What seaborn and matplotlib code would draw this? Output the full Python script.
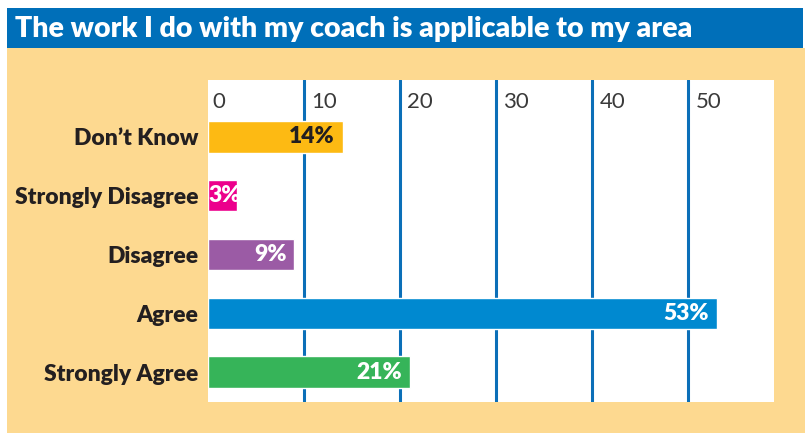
import pandas as pd
import seaborn as sns
import matplotlib.pyplot as plt
from matplotlib.patches import Rectangle

# data
categories = ["Don\u2019t Know", "Strongly Disagree", "Disagree", "Agree", "Strongly Agree"]
values = [14, 3, 9, 53, 21]
bar_colors = ["#FDBA13", "#EC008C", "#9B5BA5", "#0089D0", "#36B459"]
label_colors = ["#231F20", "white", "white", "white", "white"]
ticks = [0, 10, 20, 30, 40, 50]
title = "The work I do with my coach is applicable to my area"

sns.set_theme(style="white")
plt.rcParams['font.family'] = ['Lato', 'DejaVu Sans']

W, H = 805, 433
fig = plt.figure(figsize=(W / 100, H / 100), dpi=100)
fig.patch.set_facecolor("white")

# yellow panel + blue title bar (behind the axes)
fig.patches.append(Rectangle((7 / W, 0), (W - 7) / W, (H - 48) / H,
                             transform=fig.transFigure, facecolor="#FDD990",
                             edgecolor="none", zorder=-2))
fig.patches.append(Rectangle((7 / W, (H - 48) / H), (803 - 7) / W, 40 / H,
                             transform=fig.transFigure, facecolor="#006FB9",
                             edgecolor="none", zorder=-2))
fig.text(15 / W, 1 - 37 / H, title, color="white", fontsize=20.5,
         fontweight="heavy", va="baseline", ha="left")

ax = fig.add_axes([208 / W, (H - 402) / H, 566 / W, 322 / H])
ax.set_facecolor("white")

df = pd.DataFrame({"response": categories, "pct": values})
sns.barplot(data=df, x="pct", y="response", hue="response",
            palette=dict(zip(categories, bar_colors)), saturation=1,
            width=0.53, legend=False, ax=ax, zorder=3)

ax.set_xlim(0, 58.9)
ax.set_ylim(4.51, -0.97)
for s in ax.spines.values():
    s.set_visible(False)

# vertical grid lines (none at 0, that is the panel edge)
ax.set_xticks(ticks[1:])
ax.tick_params(axis="x", length=0, labelbottom=False, labeltop=False)
ax.grid(axis="x", color="#0B6FB8", linewidth=2.2)
ax.grid(axis="y", visible=False)
ax.set_axisbelow(True)

for t in ticks:
    ax.annotate(str(t), xy=(t, 1), xycoords=("data", "axes fraction"),
                xytext=(7 if t else 4, -22), textcoords="offset pixels",
                ha="left", va="center", fontsize=16, color="#3A3A3A",
                fontweight="normal")

ax.set_xlabel("")
ax.set_ylabel("")
ax.tick_params(axis="y", length=0, pad=7, labelsize=16.5, labelcolor="#231F20")
for lbl in ax.get_yticklabels():
    lbl.set_fontweight("heavy")

# value labels inside the bars
for i, (v, c) in enumerate(zip(values, label_colors)):
    if v < 5:
        ax.annotate(f"{v}%", xy=(0, i), xytext=(0, 0), textcoords="offset pixels",
                    ha="left", va="center", fontsize=16.5, fontweight="heavy",
                    color=c, zorder=4)
    else:
        ax.annotate(f"{v}%", xy=(v, i), xytext=(-8, 0), textcoords="offset pixels",
                    ha="right", va="center", fontsize=16.5, fontweight="heavy",
                    color=c, zorder=4)

fig.savefig("out.png", dpi=100)
